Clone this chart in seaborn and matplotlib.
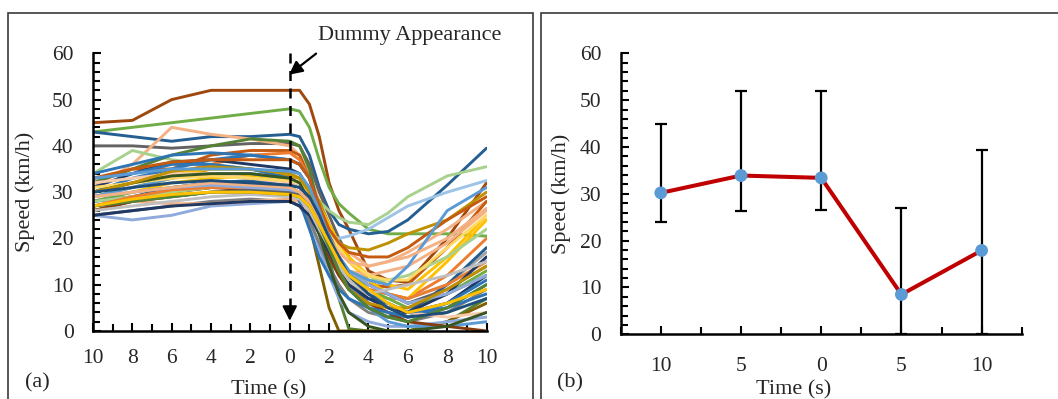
import numpy as np
import pandas as pd
import matplotlib
matplotlib.use("Agg")
import matplotlib.pyplot as plt
from matplotlib.patches import Rectangle
from matplotlib.ticker import MultipleLocator, FuncFormatter
import seaborn as sns

# ---- data ---------------------------------------------------------------
# sample times (s) relative to the dummy appearance
times = [-10, -8, -6, -4, -2, 0, 0.5, 1, 1.5, 2, 2.5, 3, 4, 5, 6, 8, 10]

# approximate speed traces (km/h)
traces = [
    [45, 45.5, 50, 52, 52, 52, 52, 49, 42, 32, 26, 22, 13, 11, 10.5, 20, 32],
    [43, 44, 45, 46, 47, 48, 47.5, 44, 37, 31, 27.5, 25.5, 22, 21, 21, 21, 20.5],
    [43, 42, 41, 42, 42, 42.5, 42, 38, 31, 26, 23, 22, 21, 21.5, 24, 31.5, 39.5],
    [40, 40, 39.5, 40, 40.5, 40.5, 40, 36, 30, 25, 20, 16, 11, 8, 6, 8, 12],
    [31, 36, 44, 42.5, 41.5, 40, 38, 34, 28, 23, 19, 17, 14, 15, 17, 22, 28],
    [34, 39, 37, 36, 35, 34, 33, 31, 28, 26, 24.5, 23.5, 23, 25.5, 29, 33.5, 35.5],
    [28, 29, 30, 31, 31, 30, 29, 26, 23, 21, 20, 20.5, 22, 24.5, 27, 30, 32.5],
    [32, 35, 35, 38, 39, 39, 38, 33, 27, 21, 16, 13, 10, 9.5, 10, 18, 28],
    [30, 32, 34, 36, 38, 38.5, 37, 33, 26, 20, 15, 12, 9, 8, 7, 12, 20],
    [31, 34, 36.5, 37, 36, 35, 34, 30, 24, 18, 13, 10, 7, 6, 4, 6, 12],
    [32, 35, 38, 40, 41.5, 41, 40, 35, 26, 16, 7, 0.5, 0, 0, 0, 2, 7],
    [30, 33, 35, 37, 38, 37, 36, 33, 26, 20, 14, 10, 6, 4, 3, 5, 10],
    [28, 30, 32, 33, 33.5, 33, 32, 30, 26, 22, 18, 15, 11, 8, 7, 15, 24],
    [29, 31, 33, 35, 35, 33.5, 33, 31, 28, 23, 19, 18, 17.5, 19, 21, 24, 30],
    [26, 28, 30, 31, 31, 29, 28, 23, 14, 5, 0, 0, 0, 0, 0, 2, 6],
    [25, 24, 25, 27, 27.5, 28, 27, 24, 18, 12, 7, 4, 2, 1, 1, 2, 3],
    [27, 28, 29, 30, 30, 29.5, 29, 26, 21, 16, 12, 10, 8, 7, 7, 10, 17],
    [25, 26, 27, 28, 28.5, 28, 27, 24, 19, 14, 10, 7, 4, 3, 2, 4, 9],
    [27, 28, 27.5, 27.5, 28, 28.5, 28, 26, 22, 18, 15, 13, 12, 13, 14, 19, 26],
    [29, 31, 33, 34, 34, 33, 32, 29, 24, 19, 14, 10, 5, 2, 1, 1, 2],
    [30, 32, 34, 35, 35, 34, 33, 31, 27, 23, 19, 16, 12, 10, 9, 16, 25],
    [28, 30, 31, 32, 32, 31, 30, 28, 24, 20, 16, 13, 9, 7, 5, 8, 13],
    [28, 29, 31, 32, 32.5, 32, 31, 28, 23, 18, 13, 9, 5, 3, 4, 10, 18],
    [26, 28, 30, 31, 30.5, 30, 29, 26, 21, 16, 12, 9, 6, 4, 2, 1, 0],
    [33, 34, 36, 36, 35, 33, 28, 22, 16, 12, 9, 7, 5, 4, 3, 6, 11],
    [28, 29, 30, 31, 31.5, 31, 30, 28, 24, 20, 16, 13, 11, 11, 12, 16, 22],
    [27, 29, 30.5, 31, 31, 30, 29, 27, 22, 17, 13, 11, 9, 8, 7, 10, 15],
    [27, 28, 29, 30, 30.5, 30, 29.5, 28, 24, 20, 16, 13, 10, 8, 6, 9, 14],
    [32, 33, 34, 34, 33, 32, 31, 28, 23, 18, 14, 11, 8, 6, 4, 3, 4],
    [34, 36, 38, 38.5, 38, 37, 36, 33, 27, 21, 16, 12, 8, 6, 4, 5, 8],
    [31, 32, 33, 33.5, 33, 32.5, 32, 30, 26, 22, 18, 15, 12, 11, 11, 18, 25],
    [25, 26, 27, 27.5, 28, 28, 27, 25, 21, 17, 13, 10, 7, 5, 4, 8, 16],
    [30, 32, 33.5, 34, 34, 33, 32, 28, 21, 14, 8, 4, 1, 0, 0, 1, 4],
    [29, 30, 31, 31.5, 31, 30.5, 30, 28, 24, 20, 16, 13, 10, 8, 6, 8, 12],
    [30, 32, 34.5, 35.5, 35, 34, 33, 30, 24, 18, 13, 9, 6, 5, 5, 9, 14],
    [33, 35, 36.5, 37, 37, 37, 36, 33, 27, 22, 19, 17, 16, 16, 18, 24, 29],
    [33, 34, 35, 35, 35, 34.5, 34, 31, 26, 20, 16, 13, 11, 10, 14, 26, 31],
    [26, 27, 28, 29, 29.5, 29, 28.5, 26, 22, 18, 14, 11, 8, 9, 10, 12, 15],
    [29, 30, 31, 32, 31.5, 31, 30, 28, 24, 20, 17, 15, 14, 15, 16, 20, 26.5],
    [27, 28, 29, 30, 30, 29.5, 29, 27, 23, 18, 13, 9, 5, 3, 2, 5, 10],
    [30, 31, 32, 32.5, 32, 31.5, 31, 29, 25, 20, 16, 12, 8, 5, 3, 4, 7],
    [27, 28.5, 29.5, 30, 30, 29.5, 29, 27, 23, 19, 15, 12, 9, 6, 4, 6, 9],
]

# panel (b): mean speed with range at each time point
time_labels = ["10", "5", "0", "5", "10"]
mean_speed = [30.2, 33.9, 33.4, 8.5, 17.9]
upper_speed = [45.0, 52.0, 52.0, 27.0, 39.4]
lower_speed = [24.0, 26.4, 26.5, 0.0, 0.0]

# ---- style --------------------------------------------------------------
sns.set_theme(style="white")
plt.rcParams['font.family'] = ['Liberation Serif', 'DejaVu Serif']

line_colors = ['#9E480E', '#70AD47', '#255E91', '#636363', '#F4B183', '#A9D18E',
               '#9DC3E6', '#C55A11', '#ED7D31', '#203864', '#548235', '#2E75B6',
               '#FFC000', '#BF9000', '#7F6000', '#8FAADC', '#A5A5A5', '#7F7F7F',
               '#F4B183', '#5B9BD5', '#FFC000', '#70AD47', '#255E91', '#843C0C',
               '#2E75B6', '#A9D18E', '#ED7D31', '#636363', '#F8CBAD', '#2E75B6',
               '#FFD966', '#203864', '#375623', '#8FAADC', '#BF9000', '#C55A11',
               '#5B9BD5', '#BFBFBF', '#F4B183', '#548235', '#1F4E79', '#FFC000']

rows = []
for i, tr in enumerate(traces):
    for t, v in zip(times, tr):
        rows.append({'trip': i, 'time': t, 'speed': v})
df = pd.DataFrame(rows)

fig = plt.figure(figsize=(10.58, 3.99), dpi=100)
W, H = 1058, 399

def px_axes(x0, y0, x1, y1):
    return fig.add_axes([x0 / W, 1 - y1 / H, (x1 - x0) / W, (y1 - y0) / H])

# panel frames
fig.add_artist(Rectangle((8 / W, -0.1), (532.7 - 8) / W, 1.1 - 12.7 / H,
                         transform=fig.transFigure, fill=False, ec='#3a3a3a', lw=1.2))
fig.add_artist(Rectangle((541 / W, -0.1), 0.6, 1.1 - 12.7 / H,
                         transform=fig.transFigure, fill=False, ec='#3a3a3a', lw=1.2))

TICK_FS = 15.5
LAB_FS = 16

def style_axes(ax):
    for s in ['top', 'right']:
        ax.spines[s].set_visible(False)
    for s in ['left', 'bottom']:
        ax.spines[s].set_color('black')
        ax.spines[s].set_linewidth(1.8)
    ax.grid(False)

# ---- panel (a) ----------------------------------------------------------
ax1 = px_axes(93, 53.3, 486.5, 331)
sns.lineplot(data=df, x='time', y='speed', hue='trip', palette=line_colors,
             legend=False, linewidth=2.1, ax=ax1, estimator=None)
ax1.set_xlim(-10, 10)
ax1.set_ylim(0, 60)
style_axes(ax1)
ax1.xaxis.set_major_locator(MultipleLocator(2))
ax1.xaxis.set_minor_locator(MultipleLocator(1))
ax1.yaxis.set_major_locator(MultipleLocator(10))
ax1.yaxis.set_minor_locator(MultipleLocator(2))
ax1.xaxis.set_major_formatter(FuncFormatter(lambda v, p: f"{abs(v):.0f}"))
ax1.tick_params(axis='both', which='both', direction='in', color='black', width=1.5,
                labelsize=TICK_FS, bottom=True, left=True)
ax1.tick_params(axis='both', which='major', length=6)
ax1.tick_params(axis='both', which='minor', length=5)
ax1.tick_params(axis='x', which='major', pad=13)
ax1.tick_params(axis='y', which='major', pad=14)
ax1.set_xlabel('')
ax1.set_ylabel('Speed (km/h)', fontsize=LAB_FS)
ax1.yaxis.set_label_coords(-0.147, 0.5)

# dashed marker for the dummy appearance
ax1.plot([0, 0], [60, 4], ls=(0, (4, 3)), color='black', lw=1.8, zorder=5)
ax1.annotate('', xy=(0, 1.6), xytext=(0, 4.5),
             arrowprops=dict(arrowstyle='-|>', color='black', lw=1.5, mutation_scale=22),
             zorder=6)
ax1.annotate('', xy=(-0.15, 55.0), xytext=(1.45, 60.3), annotation_clip=False,
             arrowprops=dict(arrowstyle='-|>', color='black', lw=1.6, mutation_scale=20))
ax1.text(1.45, 63.9, 'Dummy Appearance', fontsize=LAB_FS, ha='left', va='center',
         clip_on=False)

fig.text(269 / W, 1 - 394 / H, 'Time (s)', fontsize=LAB_FS, ha='center', va='baseline')
fig.text(37 / W, 1 - 383 / H, '(a)', fontsize=LAB_FS, ha='center', va='center')

# ---- panel (b) ----------------------------------------------------------
ax2 = px_axes(620.7, 53.3, 1021.7, 334.3)
dfb = pd.DataFrame({'time': time_labels, 'pos': range(len(time_labels)),
                    'speed': mean_speed, 'hi': upper_speed, 'lo': lower_speed})
yerr = [dfb['speed'] - dfb['lo'], dfb['hi'] - dfb['speed']]
ax2.errorbar(dfb['pos'], dfb['speed'], yerr=yerr, fmt='none', ecolor='black',
             elinewidth=1.6, capsize=4.5, capthick=1.6, zorder=2)
sns.lineplot(data=dfb, x='pos', y='speed', color='#C00000', linewidth=2.9, ax=ax2,
             zorder=3)
sns.scatterplot(data=dfb, x='pos', y='speed', color='#5B9BD5', s=85, edgecolor='none',
                ax=ax2, zorder=4)
ax2.set_xlim(-0.5, 4.5)
ax2.set_ylim(0, 60)
style_axes(ax2)
ax2.set_xticks(range(len(time_labels)))
ax2.set_xticklabels(time_labels)
ax2.xaxis.set_minor_locator(MultipleLocator(0.5))
ax2.yaxis.set_major_locator(MultipleLocator(10))
ax2.yaxis.set_minor_locator(MultipleLocator(2))
ax2.tick_params(axis='both', which='both', direction='in', color='black', width=1.5,
                labelsize=TICK_FS, bottom=True, left=True)
ax2.tick_params(axis='both', which='major', length=6)
ax2.tick_params(axis='both', which='minor', length=5)
ax2.tick_params(axis='x', which='major', pad=16)
ax2.tick_params(axis='y', which='major', pad=14)
ax2.set_xlabel('')
ax2.set_ylabel('Speed (km/h)', fontsize=LAB_FS)
ax2.yaxis.set_label_coords(-0.125, 0.5)

fig.text(794 / W, 1 - 394 / H, 'Time (s)', fontsize=LAB_FS, ha='center', va='baseline')
fig.text(570 / W, 1 - 383 / H, '(b)', fontsize=LAB_FS, ha='center', va='center')

fig.savefig('out.png', dpi=100)
